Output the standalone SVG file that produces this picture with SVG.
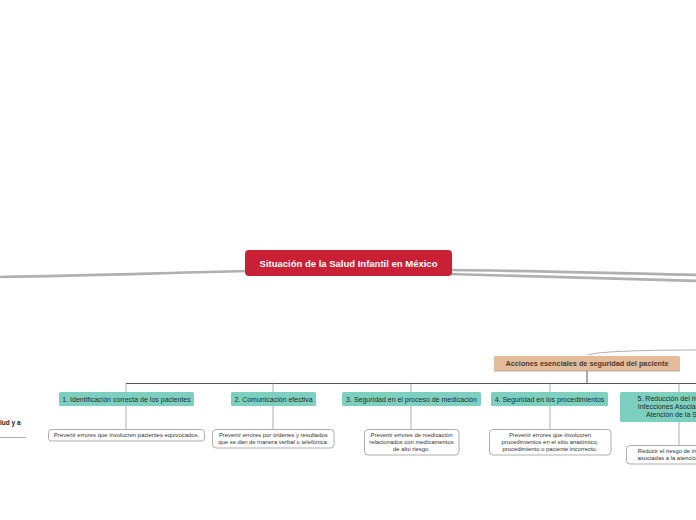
<svg xmlns="http://www.w3.org/2000/svg" width="696" height="520" viewBox="0 0 696 520">
<style>
text{font-family:"Liberation Sans",Arial,sans-serif}
.main{fill:none;stroke:#b0b0b0;stroke-width:2.6;stroke-linecap:round}
.dark{fill:none;stroke:#555;stroke-width:1}
.thin{fill:none;stroke:#999;stroke-width:0.8}
.teal{fill:#7dcfc0}
.tt{font-size:7px;fill:#1c2e2b;text-anchor:middle}
.sub{fill:#fff;stroke:#999;stroke-width:0.8}
.st{font-size:5.9px;fill:#333;text-anchor:middle}
</style>
<rect width="696" height="520" fill="#fff"/>
<g id="connectors">
<path class="main" d="M246 271 C160 273 80 276 -5 277"/>
<path class="main" d="M450 270 C540 271 620 273 700 275"/>
<path class="main" d="M450 274 C540 276 620 279 700 281"/>
<path class="thin" d="M588 355 C600 351 650 350 700 350"/>
<path class="dark" d="M587 371 V383"/>
<path class="dark" d="M126 383.5 H700"/>
<path class="thin" d="M126 383.5 V392 M273 383.5 V392 M411 383.5 V392 M550 383.5 V392 M679 383.5 V392"/>
<path class="thin" d="M126 406 V429 M273 406 V429 M411 406 V429 M550 406 V429 M679 422 V445"/>
<path class="thin" d="M0 437.5 H26"/>
</g>
<g id="central">
<rect x="245" y="250" width="207" height="26" rx="4" fill="#c92036"/>
<text x="348.5" y="267" font-size="9.5" font-weight="bold" fill="#fff" text-anchor="middle">Situación de la Salud Infantil en México</text>
</g>
<g id="acciones">
<rect x="494" y="356" width="186" height="15" rx="1.5" fill="#e3bc9c"/>
<path d="M494 371 H680" stroke="#a89484" stroke-width="0.8"/>
<text x="587" y="366" font-size="7.3" font-weight="bold" fill="#4d3a2e" text-anchor="middle">Acciones esenciales de seguridad del paciente</text>
</g>
<g id="left-node">
<text x="0" y="425" font-size="6.5" font-weight="bold" fill="#222">lud y a</text>
</g>
<g id="c1">
<rect class="teal" x="59" y="392" width="135" height="14" rx="1.5"/>
<text class="tt" x="126.5" y="401.5">1. Identificación correcta de los pacientes</text>
</g>
<g id="c2">
<rect class="teal" x="231" y="392" width="85" height="14" rx="1.5"/>
<text class="tt" x="273.5" y="401.5">2. Comunicación efectiva</text>
</g>
<g id="c3">
<rect class="teal" x="342" y="392" width="139" height="14" rx="1.5"/>
<text class="tt" x="411.5" y="401.5">3. Seguridad en el proceso de medicación</text>
</g>
<g id="c4">
<rect class="teal" x="491" y="392" width="117" height="14" rx="1.5"/>
<text class="tt" x="549.5" y="401.5">4. Seguridad en los procedimientos</text>
</g>
<g id="c5">
<rect class="teal" x="620" y="392" width="118" height="30" rx="1.5"/>
<text class="tt" x="679" y="401">5. Reducción del riesgo de</text>
<text class="tt" x="679" y="409">Infecciones Asociadas a la</text>
<text class="tt" x="679" y="417">Atención de la Salud.</text>
</g>
<g id="s1">
<rect class="sub" x="48.5" y="429.5" width="156" height="11.5" rx="3"/>
<text class="st" x="126.5" y="437.4">Prevenir errores que involucren pacientes equivocados.</text>
</g>
<g id="s2">
<rect class="sub" x="212.5" y="429.5" width="121.5" height="18.5" rx="3.5"/>
<text class="st" x="273.3" y="436.9">Prevenir errores por órdenes y resultados</text>
<text class="st" x="273.3" y="443.7">que se dan de manera verbal o telefónica.</text>
</g>
<g id="s3">
<rect class="sub" x="364.5" y="429.5" width="94.5" height="25.5" rx="3.5"/>
<text class="st" x="411.5" y="436.9">Prevenir errores de medicación</text>
<text class="st" x="411.5" y="443.7">relacionados con medicamentos</text>
<text class="st" x="411.5" y="450.5">de alto riesgo.</text>
</g>
<g id="s4">
<rect class="sub" x="489.5" y="429.5" width="121.5" height="25.5" rx="3.5"/>
<text class="st" x="550" y="436.9">Prevenir errores que involucren</text>
<text class="st" x="550" y="443.7">procedimientos en el sitio anatómico,</text>
<text class="st" x="550" y="450.5">procedimiento o paciente incorrecto.</text>
</g>
<g id="s5">
<rect class="sub" x="626.5" y="445.5" width="106" height="18.5" rx="3.5"/>
<text class="st" x="679.5" y="452.9">Reducir el riesgo de infecciones</text>
<text class="st" x="679.5" y="459.7">asociadas a la atención médica.</text>
</g>
</svg>
